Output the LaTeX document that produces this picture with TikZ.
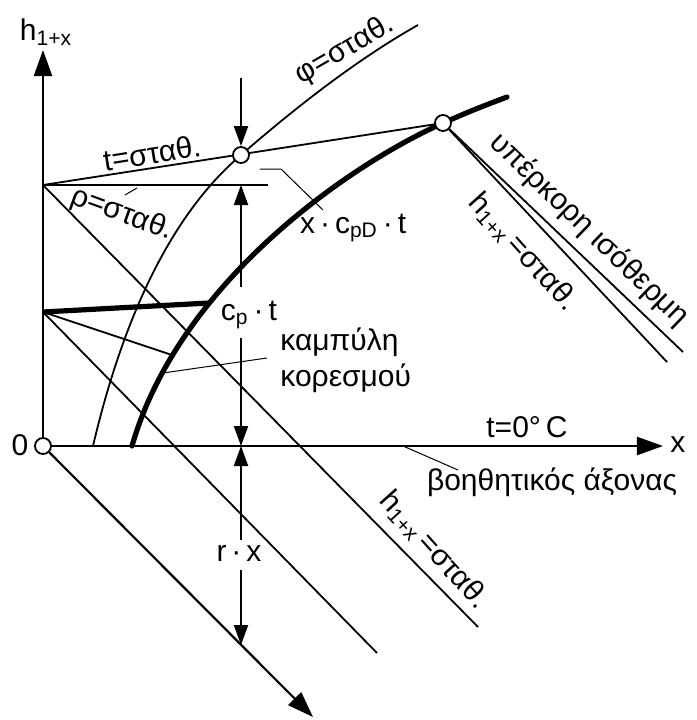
\documentclass[tikz,border=0pt]{standalone}
\usepackage{fontspec}
\setmainfont{Liberation Sans}
\usetikzlibrary{arrows.meta}

\begin{document}
\begin{tikzpicture}[x=0.5pt,y=0.5pt,font=\fontsize{15}{18}\selectfont,
    axisline/.style={line width=1.1pt,-{Triangle[length=13pt,width=9pt]}},
    dimarrow/.style={line width=1pt,-{Triangle[length=10pt,width=7pt]}},
    plain/.style={line width=0.9pt},
    bold/.style={line width=2.6pt},
    leader/.style={line width=0.5pt},
    ring/.style={circle,draw,fill=white,line width=0.9pt,minimum size=8pt,inner sep=0pt}]
  \useasboundingbox (-43,-274) rectangle (654,446);
  % points of the chart
  \coordinate (o) at (0,0);
  \coordinate (a) at (0,261);
  \coordinate (b) at (0,134);
  \coordinate (p1) at (198,291);
  \coordinate (p2) at (400,323);
  \coordinate (ytip) at (0,396);
  \coordinate (xtip) at (620,0);
  \coordinate (dtip) at (270,-271);
  \coordinate (rhoend) at (225,261);
  \coordinate (ha) at (435,-181);
  \coordinate (hb) at (334,-207);
  \coordinate (h2) at (624,84);
  \coordinate (iso) at (640,94);
  \coordinate (sb) at (166,143);
  \coordinate (sb2) at (129,91);
  \coordinate (s1) at (120,73);
  % phi = const and saturation curve
  \draw[plain] (50,0) .. controls (90,170) and (150,250) .. (p1)
    .. controls (260,345) and (320,390) .. (375,421);
  \draw[bold,line cap=round] (89,0) .. controls (135,160) and (300,278) .. (p2)
    .. controls (430,336) .. (464,349);
  % lines from the h axis
  \draw[plain] (a) -- (p2);
  \draw[plain] (a) -- (rhoend);
  \draw[plain] (a) -- (ha);
  \draw[plain] (b) -- (hb);
  \draw[plain] (b) -- (sb2);
  \draw[bold] (b) -- (sb);
  % state points
  \node[ring] (O) at (o) {};
  \node[ring] (c1) at (p1) {};
  \node[ring] (c2) at (p2) {};
  \draw[plain] (c2) -- (h2);
  \draw[plain] (c2) -- (iso);
  % axes
  \draw[axisline] (O) -- (ytip);
  \draw[axisline] (O) -- (xtip);
  \draw[axisline] (O) -- (dtip);
  % labels
  \node (hlab) at (3,414) {h\textsubscript{1+x}};
  \node (zero) at (-23,1) {0};
  \node (xlab) at (635,1) {x};
  \node (t0) at (484,19) {t=0°\,C};
  \node[anchor=west] (aux) at (377,-36) {βοηθητικός άξονας};
  \node[anchor=west] (xcp) at (250,218) {x\,·\,c\textsubscript{pD}\,·\,t};
  \node (cp) at (206,131) {c\textsubscript{p}\,·\,t};
  \node (rx) at (196,-107) {r\,·\,x};
  \node[anchor=west,align=left,inner sep=0pt] (satlab) at (237,86) {καμπύλη\\κορεσμού};
  \node[rotate=9] (tlab) at (109,293) {t=σταθ.};
  \node[rotate=-20] (rholab) at (79,232) {ρ=σταθ.};
  \node[rotate=30] (philab) at (302,396) {φ=σταθ.};
  \node[rotate=-48] (hlab2) at (480,194) {h\textsubscript{1+x}\,=σταθ.};
  \node[rotate=-44] (isolab) at (546,216) {υπέρκορη ισόθερμη};
  \node[rotate=-48] (hlab3) at (391,-104) {h\textsubscript{1+x}\,=σταθ.};
  % dimension arrows
  \coordinate (d0) at (198,368);
  \coordinate (d1) at (198,159);
  \coordinate (d2) at (198,108);
  \coordinate (d3) at (198,-94);
  \coordinate (d4) at (198,-124);
  \coordinate (r0) at (198,-199);
  \draw[dimarrow] (d0) -- (c1);
  \draw[dimarrow] (d1) -- (d1 |- a);
  \draw[dimarrow] (d2) -- (d2 |- o);
  \draw[dimarrow] (d3) -- (d3 |- o);
  \draw[dimarrow] (d4) -- (r0);
  % leaders
  \coordinate (q1) at (360,0);
  \coordinate (q2) at (415,-24);
  \draw[leader] (q1) -- (q2);
  \coordinate (q3) at (217,277);
  \coordinate (q4) at (238,277);
  \coordinate (q5) at (280,236);
  \draw[leader] (q3) -- (q4) -- (q5);
  \coordinate (q6) at (224,88);
  \draw[leader] (q6) -- (s1);
  \coordinate (q7) at (82,251);
  \coordinate (q8) at (94,258);
  \draw[leader] (q7) -- (q8);
\end{tikzpicture}
\end{document}
